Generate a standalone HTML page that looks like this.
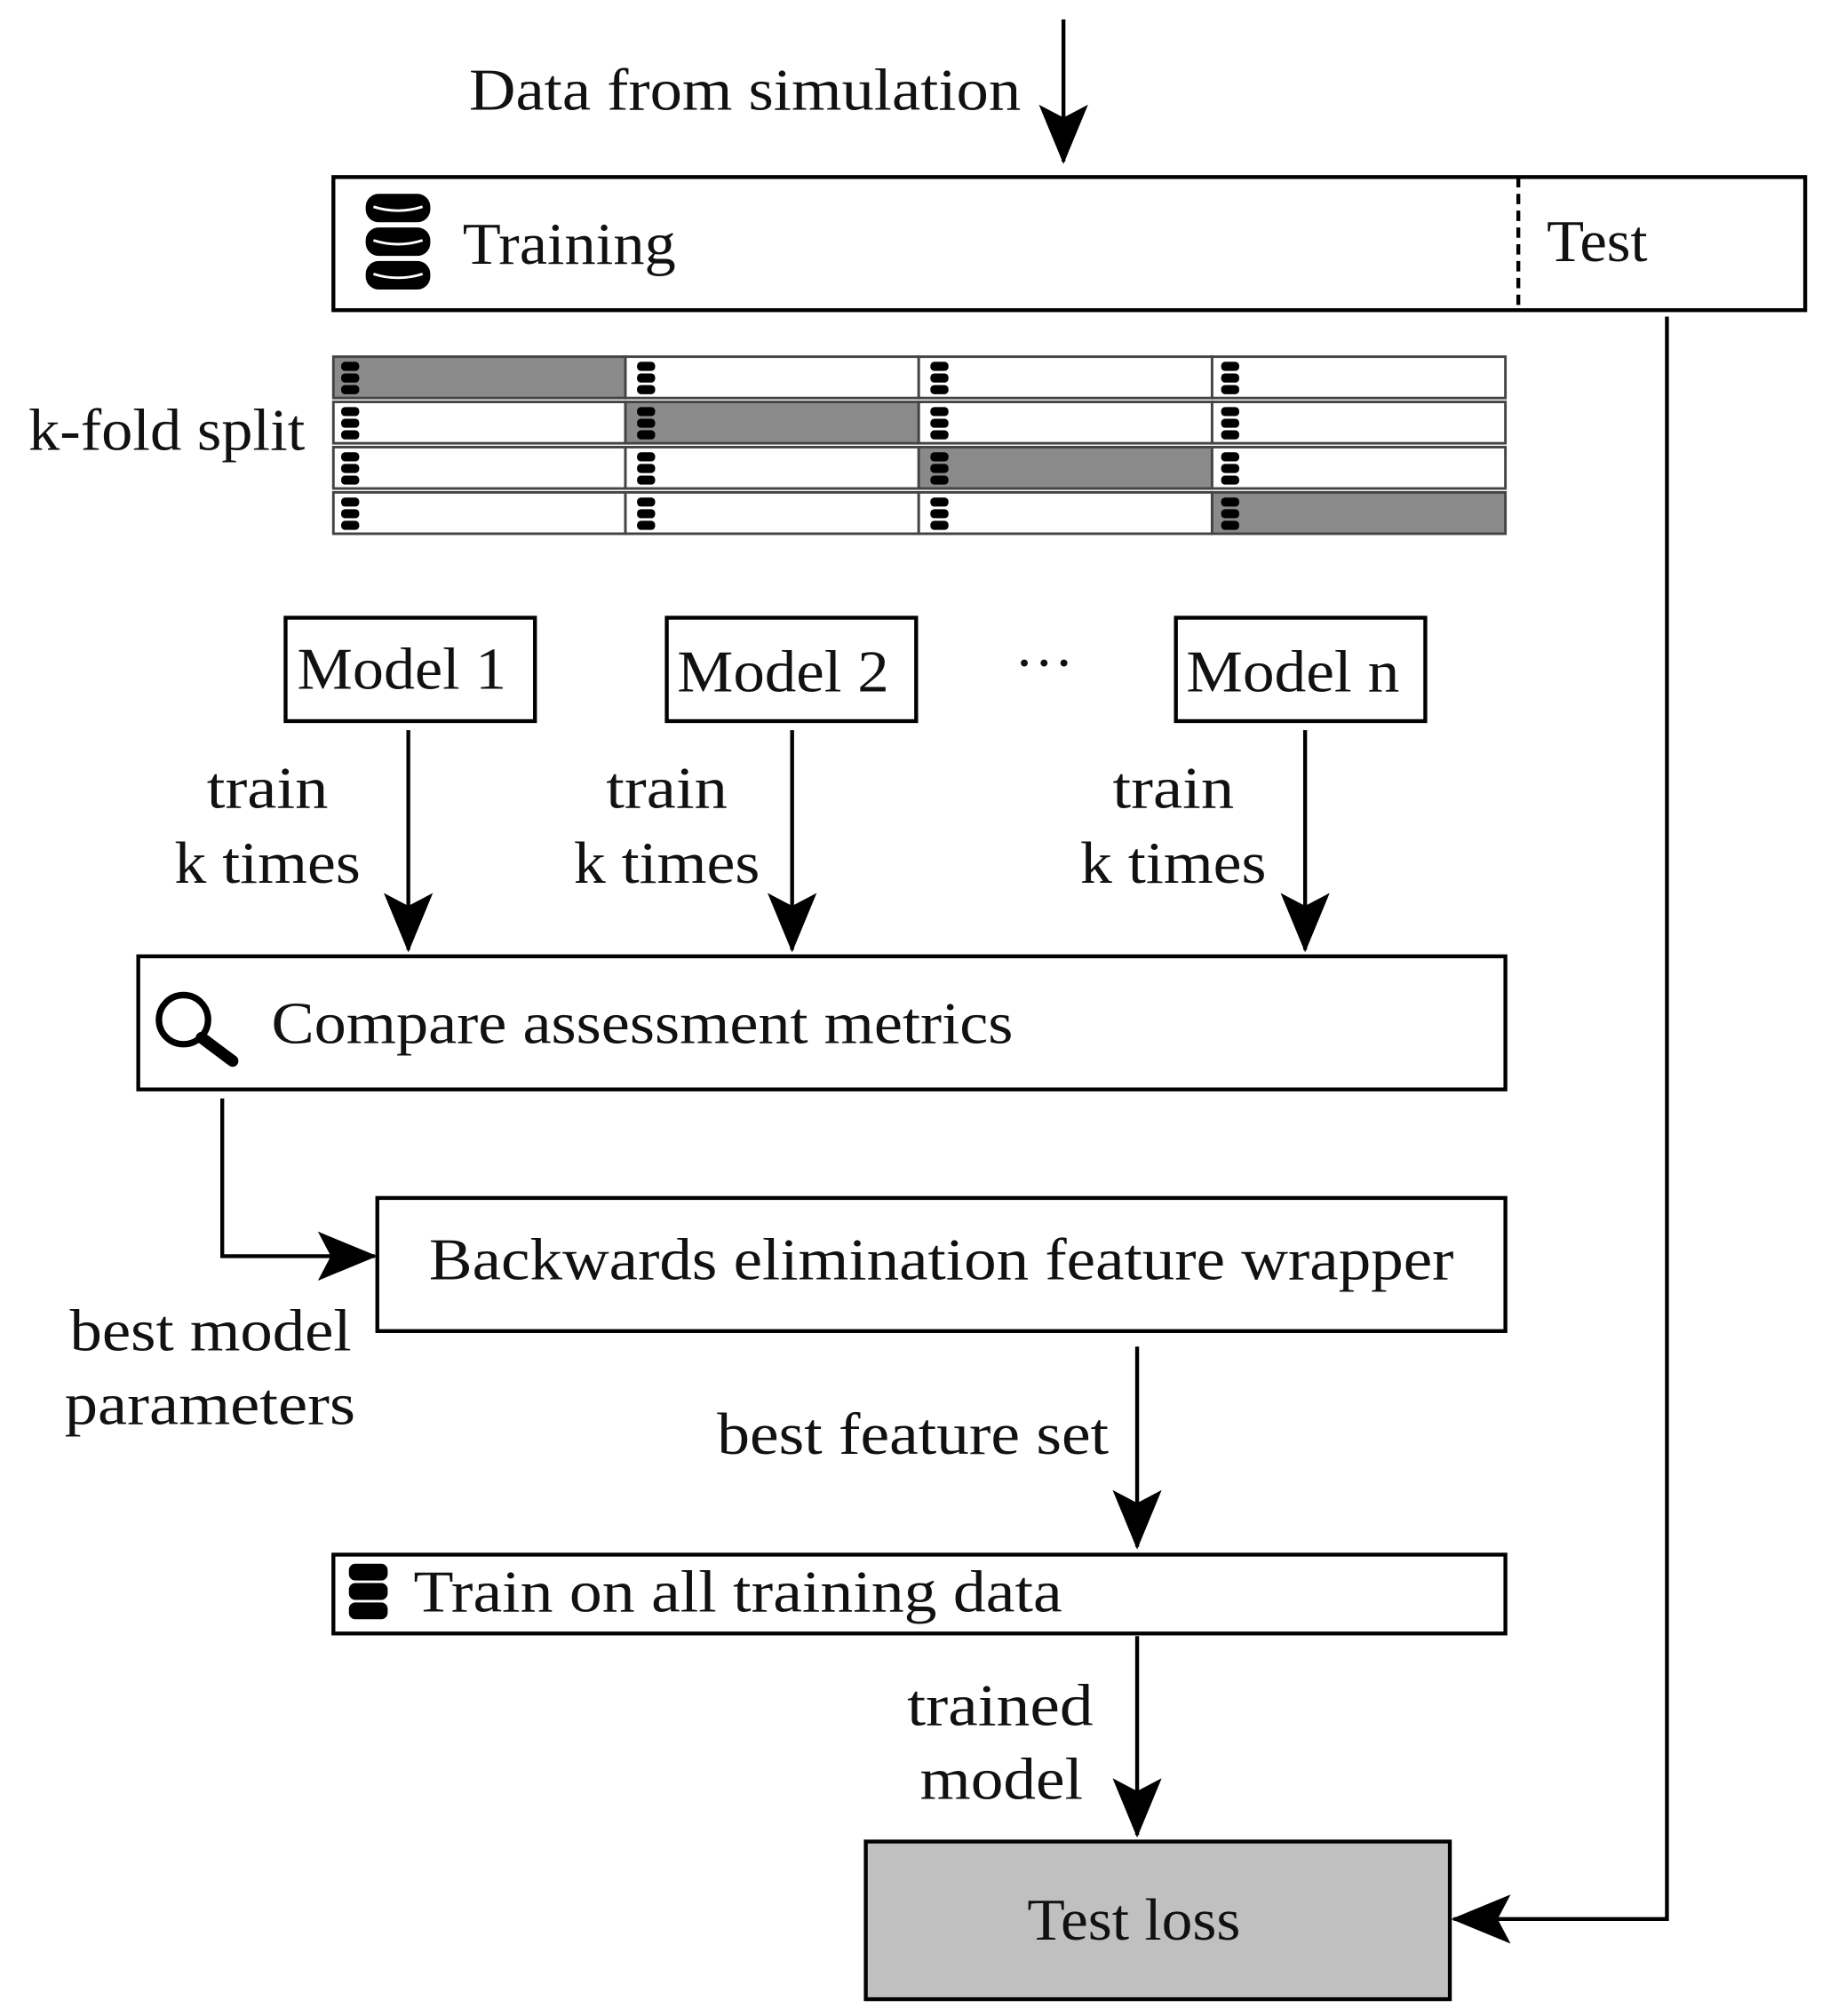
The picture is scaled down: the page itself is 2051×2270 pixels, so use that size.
<!DOCTYPE html>
<html><head><meta charset="utf-8"><style>
html,body{margin:0;padding:0;background:#fff}
svg{display:block}
text{font-family:"Liberation Serif",serif;fill:#111}
</style></head><body>
<svg width="2051" height="2270" viewBox="0 0 1410 1560" preserveAspectRatio="none" xmlns="http://www.w3.org/2000/svg">
<defs>
<marker id="ah" viewBox="0 0 46 40" refX="44" refY="20" markerWidth="46" markerHeight="40" markerUnits="userSpaceOnUse" orient="auto">
<path d="M0,1 L46,20 L0,39 L10,20 Z" fill="#000"/>
</marker>
<g id="sdb"><rect x="0" y="0" width="14" height="7" rx="3"/><rect x="0" y="9" width="14" height="7" rx="3"/><rect x="0" y="18" width="14" height="7" rx="3"/></g>
</defs>
<g stroke="#000" stroke-width="3" fill="none">
<line x1="823" y1="15" x2="823" y2="125" marker-end="url(#ah)"/>
<rect x="258" y="137" width="1139" height="103" fill="#fff"/>
<line x1="1175" y1="137" x2="1175" y2="240" stroke-dasharray="8,5"/>
<line x1="316" y1="565" x2="316" y2="735" marker-end="url(#ah)"/>
<line x1="613" y1="565" x2="613" y2="735" marker-end="url(#ah)"/>
<line x1="1010" y1="565" x2="1010" y2="735" marker-end="url(#ah)"/>
<rect x="221" y="478" width="193" height="80"/>
<rect x="516" y="478" width="193" height="80"/>
<rect x="910" y="478" width="193" height="80"/>
<rect x="107" y="740" width="1058" height="103"/>
<polyline points="172,850 172,972 290,972" marker-end="url(#ah)"/>
<rect x="292" y="927" width="873" height="103"/>
<line x1="880" y1="1042" x2="880" y2="1197" marker-end="url(#ah)"/>
<rect x="258" y="1203" width="907" height="61"/>
<line x1="880" y1="1266" x2="880" y2="1420" marker-end="url(#ah)"/>
<rect x="670" y="1425" width="452" height="122" fill="#c0c0c0"/>
<polyline points="1290,245 1290,1485 1125,1485" marker-end="url(#ah)"/>
</g>
<g stroke="#444" stroke-width="2">
<rect x="258" y="276" width="226" height="32" fill="#8a8a8a"/><rect x="484" y="276" width="227" height="32" fill="#fff"/><rect x="711" y="276" width="227" height="32" fill="#fff"/><rect x="938" y="276" width="227" height="32" fill="#fff"/>
<rect x="258" y="311" width="226" height="32" fill="#fff"/><rect x="484" y="311" width="227" height="32" fill="#8a8a8a"/><rect x="711" y="311" width="227" height="32" fill="#fff"/><rect x="938" y="311" width="227" height="32" fill="#fff"/>
<rect x="258" y="346" width="226" height="32" fill="#fff"/><rect x="484" y="346" width="227" height="32" fill="#fff"/><rect x="711" y="346" width="227" height="32" fill="#8a8a8a"/><rect x="938" y="346" width="227" height="32" fill="#fff"/>
<rect x="258" y="381" width="226" height="32" fill="#fff"/><rect x="484" y="381" width="227" height="32" fill="#fff"/><rect x="711" y="381" width="227" height="32" fill="#fff"/><rect x="938" y="381" width="227" height="32" fill="#8a8a8a"/>
</g>
<g fill="#000">
<use href="#sdb" x="264" y="280"/><use href="#sdb" x="493" y="280"/><use href="#sdb" x="720" y="280"/><use href="#sdb" x="945" y="280"/>
<use href="#sdb" x="264" y="315"/><use href="#sdb" x="493" y="315"/><use href="#sdb" x="720" y="315"/><use href="#sdb" x="945" y="315"/>
<use href="#sdb" x="264" y="350"/><use href="#sdb" x="493" y="350"/><use href="#sdb" x="720" y="350"/><use href="#sdb" x="945" y="350"/>
<use href="#sdb" x="264" y="385"/><use href="#sdb" x="493" y="385"/><use href="#sdb" x="720" y="385"/><use href="#sdb" x="945" y="385"/>
</g>
<g fill="#000">
<rect x="283" y="150" width="50" height="22" rx="10"/>
<rect x="283" y="176" width="50" height="22" rx="10"/>
<rect x="283" y="202" width="50" height="22" rx="10"/>
<rect x="270" y="1210" width="30" height="13" rx="5"/>
<rect x="270" y="1225" width="30" height="13" rx="5"/>
<rect x="270" y="1240" width="30" height="13" rx="5"/>
</g>
<g stroke="#fff" stroke-width="2" fill="none"><path d="M289,160 q19,6 38,0"/><path d="M289,186 q19,6 38,0"/><path d="M289,212 q19,6 38,0"/></g>
<circle cx="142" cy="789" r="19" stroke="#000" stroke-width="5" fill="none"/>
<line x1="156" y1="803" x2="180" y2="821" stroke="#000" stroke-width="9" stroke-linecap="round"/>
<g font-size="46" lengthAdjust="spacingAndGlyphs">
<text x="363" y="85" textLength="427" lengthAdjust="spacingAndGlyphs">Data from simulation</text>
<text x="358" y="204" textLength="165" lengthAdjust="spacingAndGlyphs">Training</text>
<text x="1197" y="202" textLength="78" lengthAdjust="spacingAndGlyphs">Test</text>
<text x="22" y="348" textLength="214" lengthAdjust="spacingAndGlyphs">k-fold split</text>
<text x="230" y="533" textLength="162" lengthAdjust="spacingAndGlyphs">Model 1</text>
<text x="524" y="535" textLength="164" lengthAdjust="spacingAndGlyphs">Model 2</text>
<text x="918" y="535" textLength="165" lengthAdjust="spacingAndGlyphs">Model n</text>
<text x="808" y="528" text-anchor="middle">···</text>
<text x="160" y="625" textLength="94" lengthAdjust="spacingAndGlyphs">train</text><text x="135" y="683" textLength="144" lengthAdjust="spacingAndGlyphs">k times</text>
<text x="469" y="625" textLength="94" lengthAdjust="spacingAndGlyphs">train</text><text x="444" y="683" textLength="144" lengthAdjust="spacingAndGlyphs">k times</text>
<text x="861" y="625" textLength="94" lengthAdjust="spacingAndGlyphs">train</text><text x="836" y="683" textLength="144" lengthAdjust="spacingAndGlyphs">k times</text>
<text x="210" y="807" textLength="574" lengthAdjust="spacingAndGlyphs">Compare assessment metrics</text>
<text x="332" y="990" textLength="793" lengthAdjust="spacingAndGlyphs">Backwards elimination feature wrapper</text>
<text x="54" y="1045" textLength="218" lengthAdjust="spacingAndGlyphs">best model</text>
<text x="50" y="1102" textLength="225" lengthAdjust="spacingAndGlyphs">parameters</text>
<text x="555" y="1125" textLength="303" lengthAdjust="spacingAndGlyphs">best feature set</text>
<text x="320" y="1247" textLength="502" lengthAdjust="spacingAndGlyphs">Train on all training data</text>
<text x="702" y="1335" textLength="144" lengthAdjust="spacingAndGlyphs">trained</text>
<text x="712" y="1392" textLength="126" lengthAdjust="spacingAndGlyphs">model</text>
<text x="795" y="1501" textLength="165" lengthAdjust="spacingAndGlyphs">Test loss</text>
</g>
</svg>
</body></html>
